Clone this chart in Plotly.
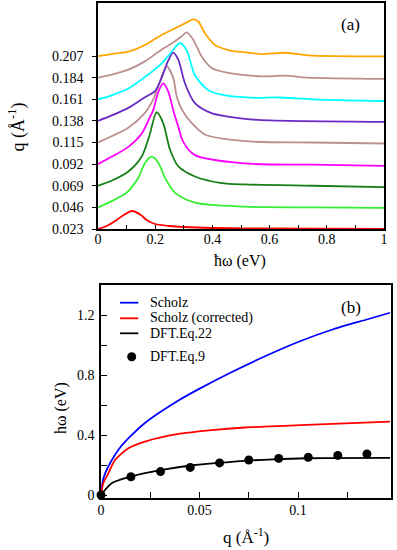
import plotly.graph_objects as go

# ---------------- Panel (a): loss spectra, offset by q ----------------
Q_VALUES = [0.023, 0.046, 0.069, 0.092, 0.115, 0.138, 0.161, 0.184, 0.207]
COLORS_A = ["#ff0000", "#33ee33", "#168016", "#ff00ff", "#bc8f8f",
            "#6a2bc4", "#00ffff", "#bc8f8f", "#ffa500"]

E_023 = [0, 0.03, 0.06, 0.09, 0.12, 0.15, 0.17, 0.2, 0.25, 0.3, 0.4, 0.6, 1.0]
I_023 = [0, 3, 8, 14, 18, 14, 9, 5, 3, 2, 1, 0.5, 0]

E_046 = [0, 0.048, 0.1, 0.141, 0.165, 0.188, 0.211, 0.234, 0.269, 0.339, 0.514, 0.75, 1.0]
I_046 = [0, 6.3, 14.7, 29.7, 44.7, 50.7, 44.7, 29.7, 14.7, 4.7, 0.7, 0, -0.5]

E_069 = [0, 0.047, 0.106, 0.153, 0.179, 0.205, 0.228, 0.24, 0.252, 0.281, 0.339, 0.432, 0.514, 0.75, 1.0]
I_069 = [0, 5, 14.3, 29.3, 49.3, 73.5, 62.7, 49.3, 36, 19.3, 9.3, 2.7, 1.3, 0, -1.3]

E_092 = [0, 0.047, 0.106, 0.153, 0.182, 0.193, 0.211, 0.228, 0.246, 0.263, 0.281, 0.298, 0.339, 0.514, 0.75, 1.0]
I_092 = [0, 7.3, 17.3, 30.7, 47.3, 54, 72.3, 80.7, 72.3, 54, 37.3, 22.3, 9, 0.7, -0.5, -1.7]

E_115 = [0, 0.047, 0.106, 0.164, 0.193, 0.217, 0.24, 0.263, 0.275, 0.293, 0.327, 0.374, 0.514, 0.75, 1.0]
I_115 = [0, 6.3, 14.7, 29.7, 43, 61.3, 76.3, 64.7, 46.3, 33, 19.7, 8, 1.3, 0, -1]

E_138 = [0, 0.048, 0.106, 0.164, 0.2, 0.225, 0.245, 0.263, 0.281, 0.304, 0.339, 0.397, 0.514, 0.6, 1.0]
I_138 = [0, 5.5, 13, 23.7, 30, 45, 60, 68.3, 61, 37.7, 17.7, 7.7, 2, 0.5, -1]

E_161 = [0, 0.048, 0.106, 0.164, 0.222, 0.257, 0.287, 0.31, 0.339, 0.386, 0.456, 0.55, 0.63, 0.75, 1.0]
I_161 = [0, 4, 10.7, 22.3, 35.7, 47.3, 56.3, 49, 24, 9, 3.3, 1.5, 1.8, 0, -1.7]

E_184 = [0, 0.048, 0.106, 0.164, 0.222, 0.269, 0.292, 0.31, 0.333, 0.362, 0.397, 0.456, 0.514, 0.572, 0.654, 0.735, 1.0]
I_184 = [0, 3, 8, 16.3, 28, 36.3, 41.3, 45.3, 38, 21.3, 9.7, 4.7, 2.5, 1.2, 2, 0, -1.3]

E_207 = [0, 0.048, 0.106, 0.164, 0.222, 0.269, 0.304, 0.333, 0.351, 0.374, 0.409, 0.456, 0.514, 0.572, 0.654, 0.735, 1.0]
I_207 = [0, 2, 4.3, 11, 21, 27.7, 32.7, 36.7, 34.3, 22.7, 11, 6, 3.7, 2, 3.3, 0.7, -0.3]

SPECTRA_E = [E_023, E_046, E_069, E_092, E_115, E_138, E_161, E_184, E_207]
SPECTRA_I = [I_023, I_046, I_069, I_092, I_115, I_138, I_161, I_184, I_207]
INTENSITY_SCALE = 0.023 / 21.625  # a.u. -> offset units

# ---------------- Panel (b): dispersion ----------------
Q_SCHOLZ = [0, 0.0012, 0.0037, 0.0105, 0.0223, 0.0393, 0.0503, 0.0672, 0.0841, 0.101, 0.1179, 0.1349, 0.1467]
W_SCHOLZ = [0, 0.11, 0.19, 0.33, 0.48, 0.63, 0.711, 0.825, 0.93, 1.025, 1.105, 1.17, 1.215]

Q_CORR = [0, 0.0012, 0.0037, 0.0071, 0.0139, 0.0223, 0.0393, 0.0562, 0.0731, 0.1044, 0.1467]
W_CORR = [0, 0.08, 0.144, 0.233, 0.311, 0.356, 0.407, 0.433, 0.45, 0.467, 0.489]

Q_EQ22 = [0, 0.0054, 0.0139, 0.0308, 0.0477, 0.0731, 0.0875, 0.1044, 0.1467]
W_EQ22 = [0, 0.078, 0.118, 0.167, 0.2, 0.228, 0.238, 0.245, 0.247]

Q_EQ9 = [0, 0.0152, 0.0302, 0.0453, 0.0602, 0.0750, 0.0902, 0.1052, 0.1202, 0.1350]
W_EQ9 = [0, 0.122, 0.156, 0.184, 0.214, 0.233, 0.244, 0.251, 0.264, 0.273]

SERIES_B = [
    ("Scholz", Q_SCHOLZ, W_SCHOLZ, "#0000ff"),
    ("Scholz (corrected)", Q_CORR, W_CORR, "#ff0000"),
    ("DFT.Eq.22", Q_EQ22, W_EQ22, "#000000"),
]

FONT = "Liberation Serif, Times New Roman, serif"
fig = go.Figure()

for q, e, inten, c in zip(Q_VALUES, SPECTRA_E, SPECTRA_I, COLORS_A):
    fig.add_trace(go.Scatter(
        x=e, y=[q + v * INTENSITY_SCALE for v in inten],
        mode="lines", line=dict(color=c, width=1.8, shape="spline", smoothing=0.8),
        xaxis="x", yaxis="y", showlegend=False, hoverinfo="skip"))

for name, qq, ww, c in SERIES_B:
    fig.add_trace(go.Scatter(
        x=qq, y=ww, mode="lines", name=name,
        line=dict(color=c, width=1.8, shape="spline", smoothing=0.7),
        xaxis="x2", yaxis="y2", showlegend=False, cliponaxis=True))

fig.add_trace(go.Scatter(
    x=Q_EQ9, y=W_EQ9, mode="markers", name="DFT.Eq.9",
    marker=dict(color="black", size=9), xaxis="x2", yaxis="y2",
    showlegend=False, cliponaxis=False))

W, H = 397, 550
def px(v): return v / W
def py(v): return 1 - v / H

axis_common = dict(showline=True, linecolor="black", linewidth=1.5, mirror=True,
                   showgrid=False, zeroline=False, automargin=False,
                   ticklabeloverflow="allow",
                   tickfont=dict(family=FONT, size=14, color="black"),
                   tickcolor="black", tickwidth=1.2)

fig.update_layout(
    template="none",
    width=W, height=H, margin=dict(l=0, r=0, t=0, b=0, pad=0),
    font=dict(family=FONT, color="black"),
    paper_bgcolor="white", plot_bgcolor="white", showlegend=False,
    xaxis=dict(domain=[px(98), px(384)], anchor="y", range=[0, 1],
               tickvals=[0, 0.2, 0.4, 0.6, 0.8, 1.0], ticktext=["0", "0.2", "0.4", "0.6", "0.8", "1"],
               ticks="inside", ticklen=4, ticklabelstandoff=-4,
               minor=dict(dtick=0.1, ticks="inside", ticklen=4, tickcolor="black", tickwidth=1.2),
               **axis_common),
    yaxis=dict(domain=[py(229), py(3.3)], anchor="x", range=[0.023, 0.2631],
               tickvals=Q_VALUES, tickformat=".3f",
               ticks="outside", ticklen=4, ticklabelstandoff=6,
               **axis_common),
    xaxis2=dict(domain=[px(101), px(391)], anchor="y2", range=[0, 0.1472],
                tickvals=[0, 0.05, 0.1], ticktext=["0", "0.05", "0.1"],
                ticks="inside", ticklen=6, ticklabelstandoff=-2,
                minor=dict(dtick=0.025, ticks="inside", ticklen=6, tickcolor="black", tickwidth=1.2),
                **axis_common),
    yaxis2=dict(domain=[py(498), py(285)], anchor="x2", range=[-0.02, 1.4],
                tickvals=[0, 0.4, 0.8, 1.2], ticktext=["0", "0.4", "0.8", "1.2"],
                ticks="inside", ticklen=6, ticklabelstandoff=2,
                minor=dict(dtick=0.2, ticks="inside", ticklen=6, tickcolor="black", tickwidth=1.2),
                **axis_common),
)

def ann(text, x, y, size, angle=0, xanchor="center"):
    fig.add_annotation(text=text, x=px(x), y=py(y), xref="paper", yref="paper",
                       showarrow=False, textangle=angle, xanchor=xanchor, yanchor="middle",
                       font=dict(family=FONT, size=size, color="black"))

ann("ħω (eV)", 240, 261, 16)
ann("q (Å<sup>-1</sup>)", 17.5, 127, 18, angle=-90)
ann("(a)", 350, 25, 17)
ann("q (Å<sup>-1</sup>)", 246, 536, 17)
ann("hω (eV)", 61, 408, 16, angle=-90)
ann("(b)", 351, 307, 17)

# manual legend for panel (b)
legend_rows = [("Scholz", "#0000ff", 302.7), ("Scholz (corrected)", "#ff0000", 318.3),
               ("DFT.Eq.22", "#000000", 333.3)]
for label, c, yy in legend_rows:
    fig.add_shape(type="line", xref="paper", yref="paper", x0=px(120), x1=px(138.3),
                  y0=py(yy), y1=py(yy), line=dict(color=c, width=1.8))
    ann(label, 147.7, yy, 14, xanchor="left")
fig.add_shape(type="circle", xref="paper", yref="paper", x0=px(127.2), x1=px(136.2),
              y0=py(361.2), y1=py(352.2), fillcolor="black", line=dict(color="black", width=0))
ann("DFT.Eq.9", 147.7, 356.3, 14, xanchor="left")

fig.write_html("out.html", config={"displayModeBar": False},
               post_script="document.body.style.margin='0';document.body.style.overflow='hidden';")
